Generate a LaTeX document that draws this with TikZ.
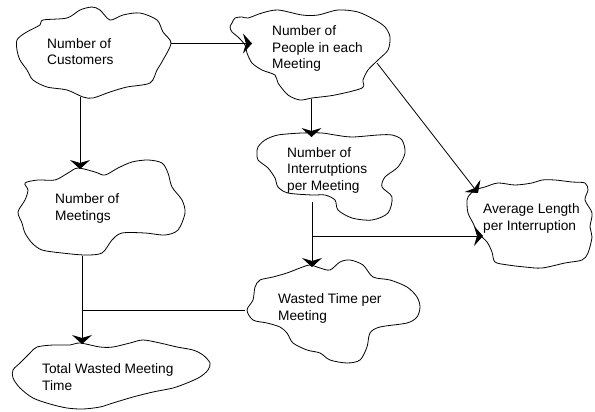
\documentclass[tikz,border=0pt]{standalone}
\usepackage{fontspec}
\setmainfont{Liberation Sans}
\usetikzlibrary{arrows.meta}
\begin{document}
\begin{tikzpicture}[x=1pt,y=-1pt,
  cloudline/.style={draw=black, line width=0.8pt},
  lbl/.style={anchor=base west, align=left, inner sep=0pt, font=\fontsize{13.7}{16.5}\selectfont},
  link/.style={draw=black, line width=0.8pt},
  arr/.style={link, -{Stealth[length=9pt,width=20pt,inset=3pt]}}]
\useasboundingbox (0,0) rectangle (595,412);

% clouds
\draw[cloudline] plot[smooth cycle] coordinates {(17,40) (25,33) (40,25) (43,20) (67,18) (80,10) (92,7) (100,10) (110,20) (123,15) (140,13) (157,20) (163,32) (171,43) (163,60) (157,70) (150,83) (127,87) (110,92) (93,98) (83,97) (67,90) (47,87) (33,80) (27,70) (20,60) (17,50)};
\draw[cloudline] plot[smooth cycle] coordinates {(232,23) (235,18) (242,17) (248,18) (262,13) (278,10) (302,15) (318,15) (338,10) (358,12) (375,20) (385,27) (390,37) (388,50) (378,60) (368,70) (363,80) (362,88) (335,95) (312,98) (300,100) (288,95) (278,83) (275,75) (262,70) (252,63) (247,53) (245,45) (238,37) (232,32) (230,27)};
\draw[cloudline] plot[smooth cycle] coordinates {(25,183) (38,180) (55,180) (68,173) (78,168) (95,172) (105,175) (118,168) (132,162) (148,160) (162,163) (168,173) (172,187) (182,200) (185,213) (178,230) (165,235) (145,233) (122,233) (112,240) (102,253) (85,255) (62,253) (42,250) (32,243) (25,233) (22,223) (18,212) (25,200) (28,190)};
\draw[cloudline] plot[smooth cycle] coordinates {(258,147) (265,140) (278,135) (302,133) (322,133) (335,135) (352,137) (378,135) (392,135) (402,140) (405,153) (398,167) (385,177) (382,187) (392,197) (388,213) (372,220) (352,218) (338,210) (335,200) (325,195) (312,195) (288,193) (278,187) (275,178) (268,168) (258,160) (257,153)};
\draw[cloudline] plot[smooth cycle] coordinates {(468,197) (475,190) (485,187) (498,183) (515,185) (532,183) (542,180) (555,180) (572,182) (585,183) (588,190) (585,200) (592,213) (590,227) (592,237) (588,253) (582,260) (565,263) (542,268) (525,267) (508,265) (495,262) (492,252) (487,242) (478,233) (473,223) (468,213) (467,203)};
\draw[cloudline] plot[smooth cycle] coordinates {(247,310) (253,300) (255,287) (260,280) (273,277) (287,273) (300,268) (310,265) (320,268) (330,270) (340,262) (350,260) (363,265) (373,277) (390,280) (407,287) (417,297) (420,307) (417,317) (407,323) (380,327) (370,333) (367,347) (360,360) (347,363) (330,360) (320,353) (307,350) (293,343) (287,333) (280,327) (267,323) (253,320)};
\draw[cloudline] plot[smooth cycle] coordinates {(13,370) (20,363) (30,353) (37,347) (53,345) (70,345) (80,343) (100,347) (113,347) (130,343) (143,340) (160,343) (177,347) (193,350) (203,355) (210,363) (208,370) (200,377) (187,383) (173,388) (153,392) (133,397) (113,403) (100,407) (83,409) (67,408) (50,404) (33,398) (20,388) (13,378)};

% labels (anchored at the baseline of their last line)
\node[lbl] (cust) at (47,65) {Number of\\Customers};
\node[lbl] (people) at (272,69) {Number of\\People in each\\Meeting};
\node[lbl] (meet) at (55,220) {Number of\\Meetings};
\node[lbl] (intr) at (287,190) {Number of\\Interrutptions\\per Meeting};
\node[lbl] (avg) at (483,230) {Average Length\\per Interruption};
\node[lbl] (waste) at (278,320) {Wasted Time per\\Meeting};
\node[lbl] (total) at (42,390) {Total Wasted Meeting\\Time};

% ports
\coordinate (cust-e) at (171,43.5);
\coordinate (cust-s) at (80,97);
\coordinate (people-w) at (252,43.5);
\coordinate (people-s) at (311.5,99);
\coordinate (people-se) at (377,63);
\coordinate (meet-n) at (80,169);
\coordinate (meet-s) at (82,256);
\coordinate (intr-n) at (311.5,137);
\coordinate (intr-s) at (312,202);
\coordinate (avg-nw) at (478,193);
\coordinate (avg-w) at (483,236);
\coordinate (waste-n) at (312,267);
\coordinate (waste-w) at (245,310);
\coordinate (total-n) at (82,344);
\coordinate (j1) at (312,236);
\coordinate (j2) at (82,310);

% connectors
\draw[arr] (cust-e) -- (people-w);
\draw[arr] (cust-s) -- (meet-n);
\draw[arr] (people-s) -- (intr-n);
\draw[arr] (people-se) -- (avg-nw);
\draw[arr] (intr-s) -- (waste-n);
\draw[arr] (j1) -- (avg-w);
\draw[arr] (meet-s) -- (total-n);
\draw[link] (waste-w) -- (j2);
\end{tikzpicture}
\end{document}
